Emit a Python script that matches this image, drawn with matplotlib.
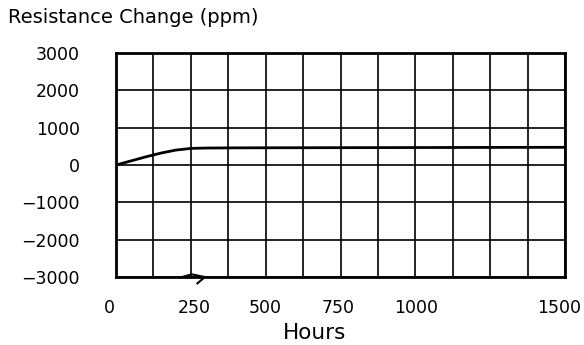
import numpy as np
import matplotlib
matplotlib.use('Agg')
import matplotlib.pyplot as plt
import matplotlib.transforms as mtransforms

# data
hours = [0, 50, 100, 150, 200, 250, 300, 400, 500, 750, 1000, 1250, 1500]
change_ppm = [0, 110, 220, 320, 400, 445, 455, 460, 462, 465, 468, 472, 475]

x_ticks = [0, 250, 500, 750, 1000, 1500]
y_ticks = [3000, 2000, 1000, 0, -1000, -2000, -3000]
y_labels = ['3000', '2000', '1000', '0', '\u22121000', '\u22122000', '\u22123000']

# little break mark on the bottom axis
mark_x = [224, 253, 297, 272]
mark_y = [-2992, -2928, -3000, -3169]

plt.rcParams['font.family'] = ['DejaVu Sans']

fig = plt.figure(figsize=(5.84, 3.45), dpi=100)
ax = fig.add_axes([0.1986, 0.197, 0.7689, 0.6493])

ax.plot(hours, change_ppm, color='black', lw=2.0, zorder=3)
ax.plot(mark_x, mark_y, color='black', lw=1.5, clip_on=False, zorder=4)

ax.set_xlim(0, 1500)
ax.set_ylim(-3000, 3000)

ax.set_xticks(np.arange(0, 1501, 125), minor=True)
ax.set_xticks(x_ticks)
ax.set_xticklabels([str(v) for v in x_ticks])
ax.set_yticks(y_ticks)
ax.set_yticklabels(y_labels)

ax.grid(True, which='both', color='black', lw=1.2)
ax.set_axisbelow(True)
for s in ax.spines.values():
    s.set_linewidth(2.0)
    s.set_color('black')

ax.tick_params(axis='both', which='both', length=0, labelsize=12.5, colors='black')
ax.tick_params(axis='y', pad=26)
ax.tick_params(axis='x', pad=16)

# nudge labels like the reference
shifts = [-7, 3, 0, -2, 1, -5.5]
for lab, dx in zip(ax.get_xticklabels(), shifts):
    lab.set_transform(lab.get_transform() + mtransforms.ScaledTranslation(dx/100, 0, fig.dpi_scale_trans))

fig.text(315/584, 1 - 333/345, 'Hours', ha='center', va='center', fontsize=15.5)
fig.text(8/584, 1 - 23/345, 'Resistance Change (ppm)', ha='left', va='baseline', fontsize=14)

plt.savefig('out.png', dpi=100)
